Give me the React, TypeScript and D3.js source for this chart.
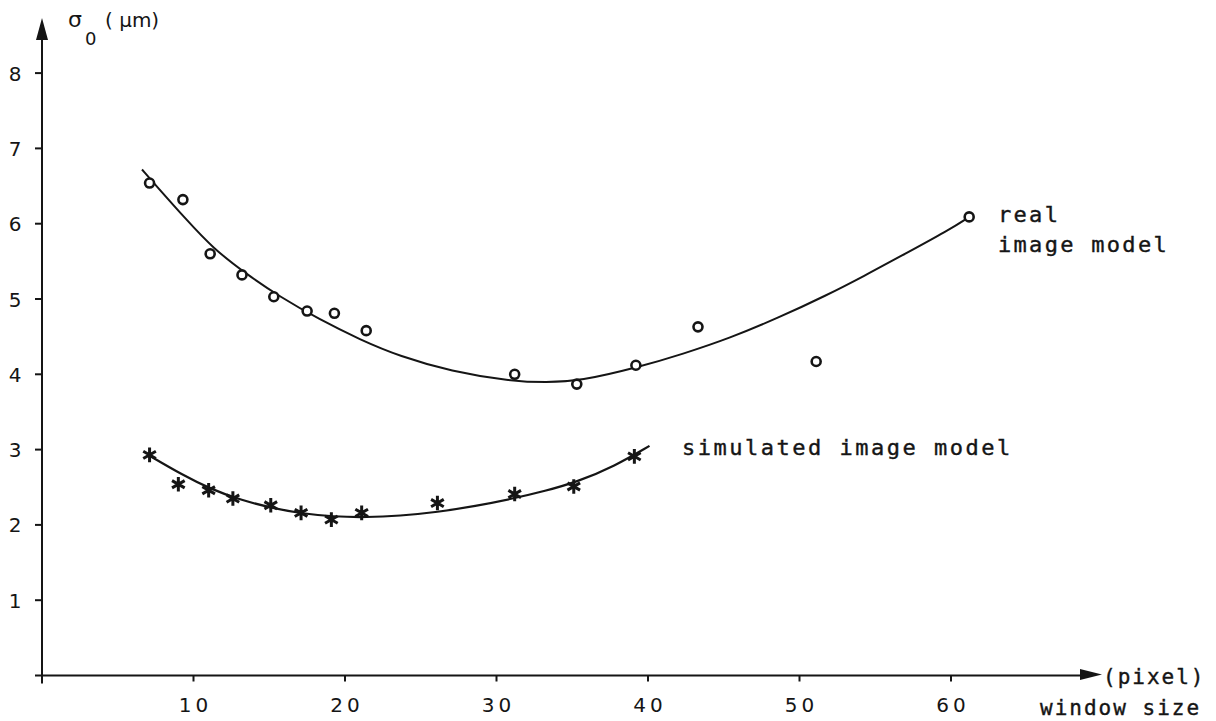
import React, { useEffect, useRef } from 'react';
import * as d3 from 'd3';

// window size (pixel) vs sigma_0 (um)
const realPoints: [number, number][] = [
  [7.1, 6.54], [9.3, 6.32], [11.1, 5.6], [13.2, 5.32], [15.3, 5.03], [17.5, 4.84],
  [19.3, 4.81], [21.4, 4.58], [31.2, 4.0], [35.3, 3.87], [39.2, 4.12], [43.3, 4.63],
  [51.1, 4.17], [61.2, 6.09],
];
const realCurve: [number, number][] = [
  [6.6, 6.72], [7.6, 6.49], [9.5, 6.06], [11.3, 5.67], [13.5, 5.33], [15.7, 5.03],
  [18.3, 4.73], [21, 4.46], [23.6, 4.24], [27, 4.04], [30.9, 3.91], [33.3, 3.89],
  [35.5, 3.91], [39.3, 4.09], [42.3, 4.27], [45.4, 4.48], [48.6, 4.75], [51.8, 5.05],
  [54.3, 5.31], [56.6, 5.56], [59.9, 5.92], [61.2, 6.09],
];
const simPoints: [number, number][] = [
  [7.1, 2.93], [9.0, 2.54], [11.0, 2.46], [12.6, 2.35], [15.1, 2.26], [17.1, 2.16],
  [19.1, 2.07], [21.1, 2.16], [26.1, 2.29], [31.2, 2.41], [35.1, 2.51], [39.1, 2.91],
];
const simCurve: [number, number][] = [
  [7.0, 2.93], [9.3, 2.66], [11.1, 2.48], [13.1, 2.33], [15.3, 2.22], [17.2, 2.15],
  [19.2, 2.11], [21.4, 2.1], [23.6, 2.12], [26.1, 2.17], [28.6, 2.25], [31.1, 2.35],
  [33.2, 2.45], [35.3, 2.57], [37.8, 2.78], [40.1, 3.05],
];
const xTicks = [10, 20, 30, 40, 50, 60];
const yTicks = [1, 2, 3, 4, 5, 6, 7, 8];

const INK = '#151515';
const MONO = '"DejaVu Sans Mono", "Liberation Mono", monospace';
const SANS = '"DejaVu Sans", "Liberation Sans", sans-serif';

export default function App() {
  const ref = useRef<SVGSVGElement>(null);

  useEffect(() => {
    const svg = d3.select(ref.current);
    svg.selectAll('*').remove();

    const x = d3.scaleLinear().domain([0, 60]).range([42, 951]);
    const y = d3.scaleLinear().domain([0, 8]).range([675.5, 73.1]);

    svg.append('rect').attr('width', 1216).attr('height', 721).attr('fill', '#fff');

    const g = svg.append('g');

    // axes
    g.append('line')
      .attr('x1', x(0)).attr('x2', x(0))
      .attr('y1', y(0) + 8).attr('y2', 36)
      .attr('stroke', INK).attr('stroke-width', 2);
    g.append('path')
      .attr('d', `M${x(0)},18 L${x(0) - 6},40 L${x(0) + 6},40 Z`)
      .attr('fill', INK);
    g.append('line')
      .attr('x1', x(0) - 7).attr('x2', 1084)
      .attr('y1', y(0)).attr('y2', y(0))
      .attr('stroke', INK).attr('stroke-width', 2);
    g.append('path')
      .attr('d', `M1102,${y(0) - 1} L1080,${y(0) - 6.5} L1080,${y(0) + 4.5} Z`)
      .attr('fill', INK);

    // y ticks
    yTicks.forEach(t => {
      g.append('line')
        .attr('x1', x(0) - 7).attr('x2', x(0))
        .attr('y1', y(t)).attr('y2', y(t))
        .attr('stroke', INK).attr('stroke-width', 2);
      g.append('text')
        .attr('x', 15).attr('y', y(t) + 7.5)
        .attr('text-anchor', 'middle')
        .style('font-family', SANS).style('font-size', '20px')
        .style('fill', INK)
        .text(t);
    });

    // x ticks
    xTicks.forEach(t => {
      g.append('line')
        .attr('x1', x(t)).attr('x2', x(t))
        .attr('y1', y(0)).attr('y2', y(0) + 6)
        .attr('stroke', INK).attr('stroke-width', 2);
      g.append('text')
        .attr('x', x(t) + 2).attr('y', 712)
        .attr('text-anchor', 'middle')
        .style('font-family', SANS).style('font-size', '20px')
        .style('letter-spacing', '4px')
        .style('fill', INK)
        .text(t);
    });

    // fitted curves
    const line = d3.line<[number, number]>()
      .x(d => x(d[0]))
      .y(d => y(d[1]))
      .curve(d3.curveBasis);

    g.append('path').attr('d', line(realCurve))
      .attr('fill', 'none').attr('stroke', INK).attr('stroke-width', 2);
    g.append('path').attr('d', line(simCurve))
      .attr('fill', 'none').attr('stroke', INK).attr('stroke-width', 2.2);

    // real image model points
    g.selectAll('circle.real')
      .data(realPoints)
      .enter().append('circle')
      .attr('class', 'real')
      .attr('cx', d => x(d[0]))
      .attr('cy', d => y(d[1]))
      .attr('r', 4.5)
      .attr('fill', '#fff')
      .attr('stroke', INK)
      .attr('stroke-width', 2.6);

    // simulated image model points
    const star = d3.symbol().type(d3.symbolAsterisk).size(150);
    g.selectAll('path.sim')
      .data(simPoints)
      .enter().append('path')
      .attr('class', 'sim')
      .attr('transform', d => `translate(${x(d[0])},${y(d[1])})`)
      .attr('d', star() as string)
      .attr('fill', 'none')
      .attr('stroke', INK)
      .attr('stroke-width', 3);

    // labels
    const label = (tx: number, ty: number, s: string, ls = 2.5, fs = 22) =>
      g.append('text')
        .attr('x', tx).attr('y', ty)
        .style('font-family', MONO).style('font-size', `${fs}px`)
        .style('letter-spacing', `${ls}px`)
        .style('fill', INK)
        .style('stroke', INK).style('stroke-width', 0.4)
        .text(s);

    label(998, 222, 'real', 2.3);
    label(998, 252, 'image model', 2.3);
    label(682, 455, 'simulated image model', 2.5);
    label(1103, 684, '(pixel)', 2.0, 21);
    label(1040, 715, 'window size', 2.0, 21);

    // y axis title: sigma_0 (um)
    const yt = g.append('text')
      .attr('x', 68).attr('y', 27)
      .style('font-family', SANS).style('font-size', '22px')
      .style('fill', INK);
    yt.append('tspan').text('σ');
    yt.append('tspan').attr('x', 85).attr('y', 45).style('font-size', '18px').text('0');
    yt.append('tspan').attr('x', 105).attr('y', 27).style('font-size', '20px').text('( μm)');
  }, []);

  return (
    <svg
      ref={ref}
      width={1216}
      height={721}
      style={{ position: 'absolute', left: 0, top: 0 }}
    />
  );
}
